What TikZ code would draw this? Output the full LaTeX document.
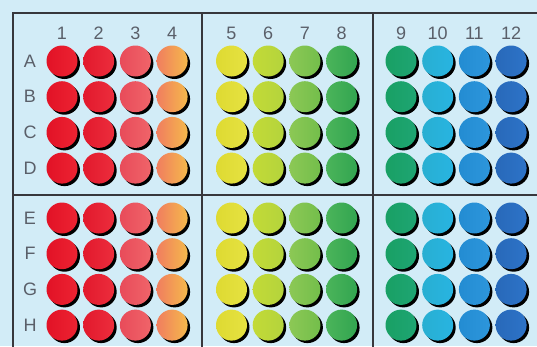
\documentclass[tikz,border=0pt]{standalone}
\usepackage{fontspec}
\setmainfont{Liberation Sans}
\usetikzlibrary{shadows}
\definecolor{platebg}{RGB}{210,236,247}
\definecolor{framegray}{RGB}{55,55,60}
\definecolor{labelgray}{RGB}{90,95,105}
% well colours, left and right side of each column
\definecolor{wellL1}{RGB}{226,18,38}   \definecolor{wellR1}{RGB}{236,35,50}
\definecolor{wellL2}{RGB}{226,25,45}   \definecolor{wellR2}{RGB}{236,45,60}
\definecolor{wellL3}{RGB}{232,75,90}   \definecolor{wellR3}{RGB}{240,100,105}
\definecolor{wellL4}{RGB}{240,125,95}  \definecolor{wellR4}{RGB}{245,185,75}
\definecolor{wellL5}{RGB}{222,218,50}  \definecolor{wellR5}{RGB}{230,226,65}
\definecolor{wellL6}{RGB}{195,218,55}  \definecolor{wellR6}{RGB}{180,212,60}
\definecolor{wellL7}{RGB}{140,200,85}  \definecolor{wellR7}{RGB}{115,190,75}
\definecolor{wellL8}{RGB}{75,180,90}   \definecolor{wellR8}{RGB}{50,165,80}
\definecolor{wellL9}{RGB}{25,160,100}  \definecolor{wellR9}{RGB}{30,165,115}
\definecolor{wellL10}{RGB}{40,175,210} \definecolor{wellR10}{RGB}{40,180,225}
\definecolor{wellL11}{RGB}{35,140,210} \definecolor{wellR11}{RGB}{45,150,220}
\definecolor{wellL12}{RGB}{40,105,185} \definecolor{wellR12}{RGB}{45,115,200}

\begin{document}
\begin{tikzpicture}[
        x=1pt, y=-1pt,
        well/.style={circle, minimum size=31pt, inner sep=0pt,
            left color=wellL#1, right color=wellR#1,
            drop shadow={shadow xshift=2.5pt, shadow yshift=-2.5pt, fill=black, opacity=1}},
        platelabel/.style={text=labelgray, font=\fontsize{18}{20}\selectfont, inner sep=0pt},
        frame/.style={draw=framegray, line width=2pt}
    ]
        % Plate background
        \fill[platebg] (0,0) rectangle (537,346);
        \useasboundingbox (0,0) rectangle (537,346);
        \clip (0,0) rectangle (537,346);

        % Frame and dividers
        \draw[frame] (12.5,13) rectangle (570,380);
        \draw[frame] (202,13) -- (202,380);
        \draw[frame] (373,13) -- (373,380);
        \draw[frame] (12.5,195) -- (570,195);

        % Row labels
        \foreach \rl [count=\r] in {A,B,C,D,E,F,G,H} {
            \pgfmathsetmacro{\yr}{61 + (\r-1)*35.7 + (\r>4)*14.2}
            \node[platelabel] (row\rl) at (30,\yr) {\rl};
        }

        % Column labels and wells
        \foreach \c in {1,...,12} {
            \pgfmathsetmacro{\xc}{62 + int((\c-1)/4)*169.5 + mod(\c-1,4)*36.7}
            \node[platelabel] (col\c) at (\xc,33) {\c};
            \foreach \rl [count=\r] in {A,B,C,D,E,F,G,H} {
                \pgfmathsetmacro{\yr}{61 + (\r-1)*35.7 + (\r>4)*14.2}
                \node[well=\c] (\rl\c) at (\xc,\yr) {};
            }
        }

    \end{tikzpicture}
\end{document}
